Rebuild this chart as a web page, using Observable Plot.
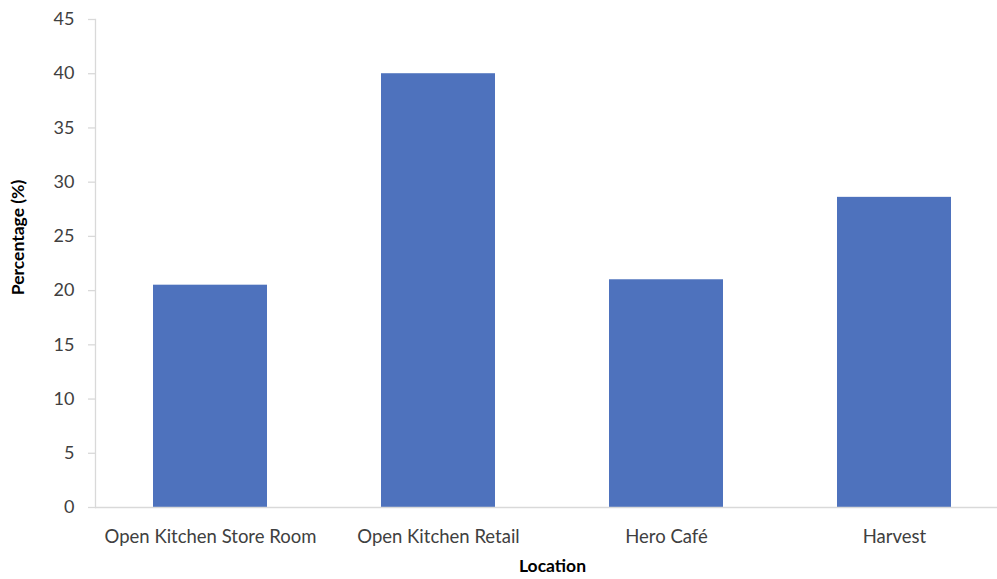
<!DOCTYPE html>
<html>
<head>
<meta charset="utf-8">
<script src="https://cdn.jsdelivr.net/npm/d3@7"></script>
<script src="https://cdn.jsdelivr.net/npm/@observablehq/plot@0.6"></script>
<style>
  html, body { margin: 0; padding: 0; background: #fff; }
  #chart svg { display: block; }
</style>
</head>
<body>
<div id="chart"></div>
<script>
const locations = ["Open Kitchen Store Room", "Open Kitchen Retail", "Hero Café", "Harvest"];
const percentages = [20.5, 40, 21.0, 28.6];
const yTicks = [0, 5, 10, 15, 20, 25, 30, 35, 40, 45];
const xTitle = "Location";
const yTitle = "Percentage (%)";

const data = locations.map((loc, i) => ({location: loc, value: percentages[i]}));

const W = 997, H = 579;
const mL = 95, mT = 19, mB = 72;
const step = 228.3;

const chart = Plot.plot({
  width: W,
  height: H,
  marginLeft: mL,
  marginRight: 0,
  marginTop: mT,
  marginBottom: mB,
  style: {fontFamily: "Lato, 'Open Sans', sans-serif", fontSize: "18px", color: "#404040", background: "#fff"},
  x: {domain: locations, range: [mL, mL + step * locations.length], paddingInner: 0.5, paddingOuter: 0.25},
  y: {domain: [0, 45]},
  marks: [
    Plot.frame({anchor: "left", stroke: "#d9d9d9", strokeWidth: 1.3}),
    Plot.barY(data, {x: "location", y: "value", fill: "#4e72bd"}),
    Plot.ruleY([0], {stroke: "#d9d9d9", strokeWidth: 1.3}),
    Plot.axisY({ticks: yTicks, tickSize: 7, tickPadding: 14, stroke: "#d9d9d9", strokeWidth: 1.3, label: null, fill: "#404040", fontSize: 18}),
    Plot.axisX({tickSize: 0, tickPadding: 22, label: null, fill: "#404040", fontSize: 18.5}),
    Plot.text([xTitle], {frameAnchor: "bottom", dx: 6, dy: 64, fontWeight: "bold", fontSize: 17.5, fill: "#000", text: d => d}),
    Plot.text([yTitle], {frameAnchor: "left", textAnchor: "middle", dx: -77, dy: -26, rotate: -90, fontWeight: "bold", fontSize: 17.5, fill: "#000", text: d => d})
  ]
});
document.getElementById("chart").appendChild(chart);
</script>
</body>
</html>
